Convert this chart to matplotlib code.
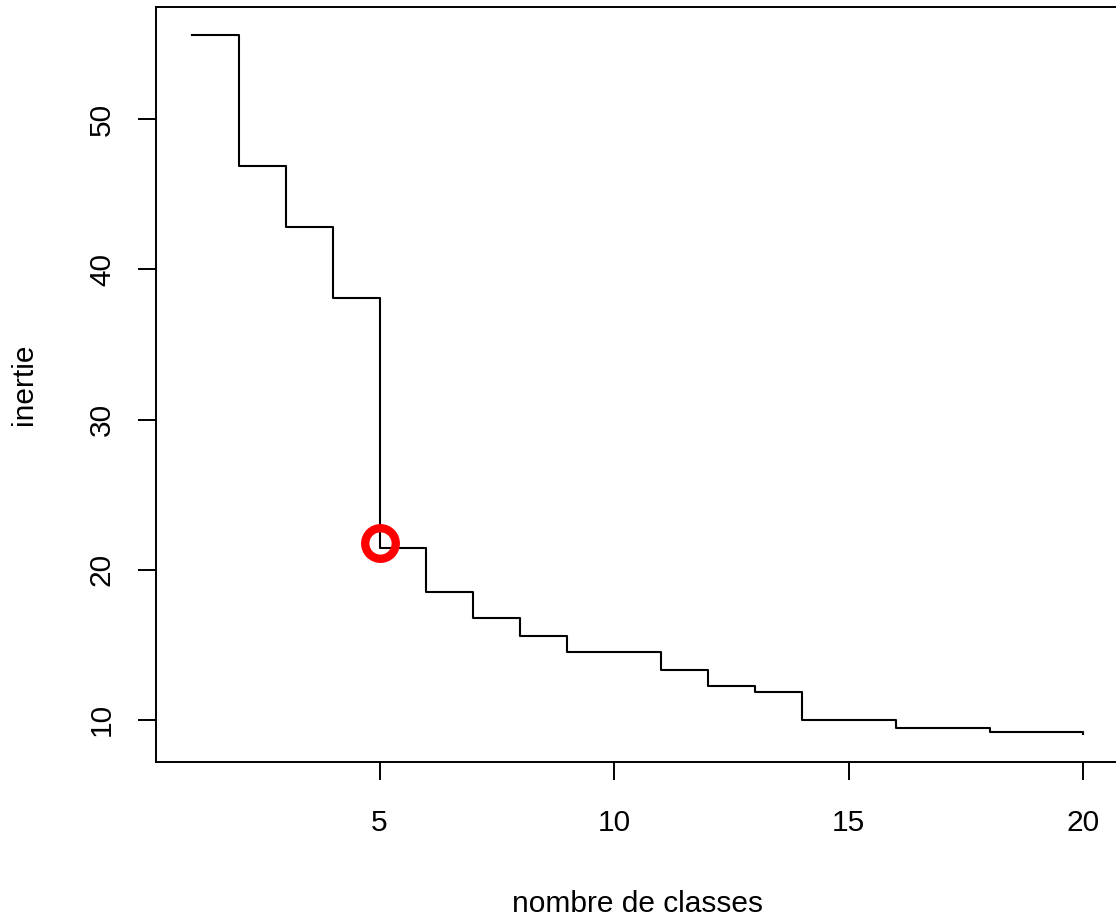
import matplotlib
matplotlib.use('Agg')
import matplotlib.pyplot as plt

# nombre de classes et inertie
classes = list(range(1, 21))
inertie = [55.6, 46.9, 42.8, 38.1, 21.45, 18.5, 16.8, 15.6, 14.5, 14.5,
           13.3, 12.25, 11.85, 10.0, 10.0, 9.45, 9.45, 9.17, 9.17, 9.07]
choix_k = 5
choix_inertie = 21.8

xticks = [5, 10, 15, 20]
yticks = [10, 20, 30, 40, 50]

plt.rcParams['font.family'] = ['Liberation Sans', 'DejaVu Sans']

fig = plt.figure(figsize=(11.16, 9.17), dpi=100)
# le cadre depasse un peu a droite, comme sur l'original
ax = fig.add_axes([0.1400, 0.1694, 0.8627, 0.8227])

ax.step(classes, inertie, where='post', color='black', linewidth=1.5)
ax.plot([choix_k], [choix_inertie], marker='o', markersize=22,
        markerfacecolor='none', markeredgecolor='#ff0000', markeredgewidth=6,
        linestyle='none')

xr = max(classes) - min(classes)
ax.set_xlim(min(classes) - 0.04 * xr, max(classes) + 0.04 * xr)
yr = max(inertie) - min(inertie)
ax.set_ylim(min(inertie) - 0.04 * yr, max(inertie) + 0.04 * yr)

ax.set_xticks(xticks)
ax.set_yticks(yticks)
ax.set_yticklabels([str(v) for v in yticks], rotation=90, va='center')
ax.tick_params(axis='both', direction='out', length=13, width=1.4,
               labelsize=21.5)
ax.tick_params(axis='x', pad=21)
ax.tick_params(axis='y', pad=16)
for s in ax.spines.values():
    s.set_linewidth(1.4)

ax.set_xlabel('nombre de classes', fontsize=21.5, labelpad=38)
ax.set_ylabel('inertie', fontsize=21.5, labelpad=36)

fig.savefig('out.png', dpi=100)
